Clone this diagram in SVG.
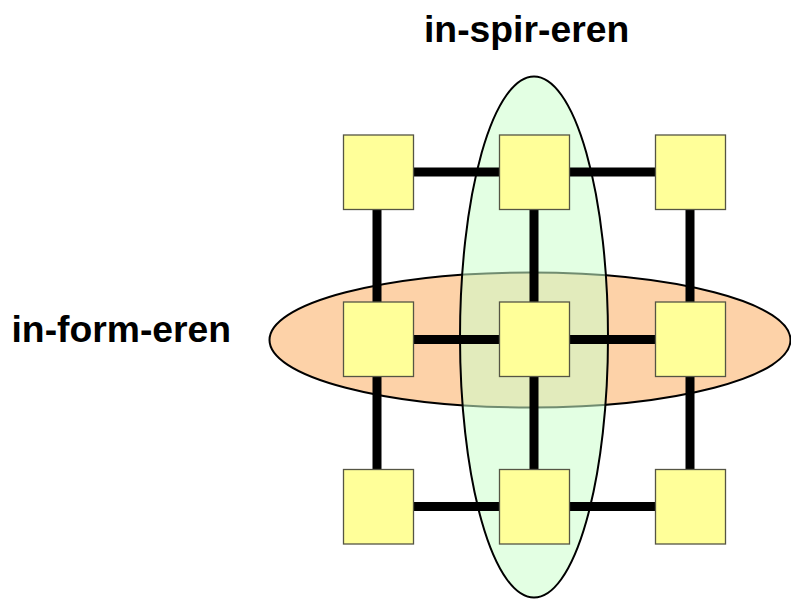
<svg xmlns="http://www.w3.org/2000/svg" width="791" height="599" viewBox="0 0 791 599">
<style>
.lbl{font-family:"Liberation Sans",Arial,sans-serif;font-weight:bold;font-size:37.3px;fill:#000}
.node rect{fill:#FFFF99;stroke:#555544;stroke-width:1.3}
.conn line{stroke:#000;stroke-width:9}
.ell{stroke:#000;stroke-width:2}
</style>
<rect width="791" height="599" fill="#fff"/>
<g id="ellipse-informeren">
<ellipse class="ell" cx="530" cy="340" rx="260.5" ry="67.5" fill="#FDD2A8"/>
</g>
<g id="ellipse-inspireren">
<ellipse class="ell" cx="534" cy="337" rx="74" ry="260.5" fill="#CCFFCC" fill-opacity="0.55"/>
</g>
<g id="connectors" class="conn">
<line x1="378" y1="172" x2="690" y2="172"/>
<line x1="378" y1="339.5" x2="690" y2="339.5"/>
<line x1="378" y1="506.5" x2="690" y2="506.5"/>
<line x1="377" y1="172" x2="377" y2="506.5"/>
<line x1="534" y1="172" x2="534" y2="506.5"/>
<line x1="690" y1="172" x2="690" y2="506.5"/>
</g>
<g id="n11" class="node"><rect x="343.5" y="135" width="70" height="74.5"/></g>
<g id="n12" class="node"><rect x="499.5" y="135" width="70" height="74.5"/></g>
<g id="n13" class="node"><rect x="655.5" y="135" width="70" height="74.5"/></g>
<g id="n21" class="node"><rect x="343.5" y="302" width="70" height="74.5"/></g>
<g id="n22" class="node"><rect x="499.5" y="302" width="70" height="74.5"/></g>
<g id="n23" class="node"><rect x="655.5" y="302" width="70" height="74.5"/></g>
<g id="n31" class="node"><rect x="343.5" y="469.5" width="70" height="74.5"/></g>
<g id="n32" class="node"><rect x="499.5" y="469.5" width="70" height="74.5"/></g>
<g id="n33" class="node"><rect x="655.5" y="469.5" width="70" height="74.5"/></g>
<g id="labels">
<text class="lbl" x="424" y="41.5">in-spir-eren</text>
<text class="lbl" x="11.5" y="341.5">in-form-eren</text>
</g>
</svg>
